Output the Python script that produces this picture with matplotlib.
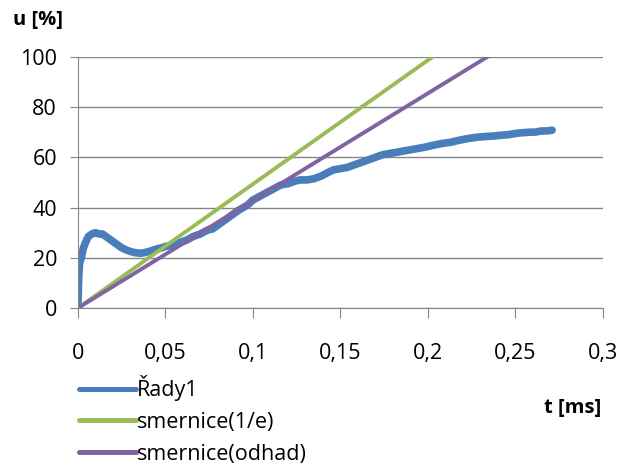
import matplotlib
matplotlib.use("Agg")
import matplotlib.pyplot as plt
from matplotlib.ticker import FuncFormatter

plt.rcParams['font.family'] = ['Open Sans', 'DejaVu Sans']

t_meas = [0.0, 0.0003, 0.0006, 0.001, 0.0015, 0.002, 0.003, 0.004, 0.005, 0.006,
          0.008, 0.010, 0.012, 0.014, 0.016, 0.018, 0.020, 0.022, 0.025, 0.028,
          0.030, 0.033, 0.036, 0.039, 0.042, 0.045, 0.048, 0.050, 0.054, 0.058,
          0.062, 0.066, 0.070, 0.074, 0.077, 0.080, 0.084, 0.088, 0.092, 0.097,
          0.100, 0.104, 0.108, 0.112, 0.116, 0.120, 0.124, 0.127, 0.131, 0.135,
          0.139, 0.143, 0.146, 0.150, 0.154, 0.158, 0.162, 0.166, 0.170, 0.174,
          0.178, 0.182, 0.186, 0.190, 0.194, 0.198, 0.203, 0.208, 0.213, 0.218,
          0.223, 0.228, 0.233, 0.238, 0.242, 0.246, 0.250, 0.254, 0.258, 0.261,
          0.265, 0.268, 0.271]
u_meas = [0.0, 8.0, 14.0, 18.0, 19.0, 20.0, 23.5, 25.5, 27.0, 28.5,
          29.5, 30.0, 29.5, 29.5, 28.5, 27.5, 26.5, 25.5, 24.0, 23.0,
          22.5, 22.0, 21.8, 22.2, 22.8, 23.5, 24.0, 24.5, 25.0, 26.0,
          27.0, 28.5, 29.5, 31.0, 31.5, 33.0, 35.0, 37.0, 39.0, 41.0,
          43.0, 44.5, 46.0, 47.5, 49.0, 49.5, 50.5, 51.0, 51.0, 51.5,
          52.5, 54.0, 55.0, 55.5, 56.0, 57.0, 58.0, 59.0, 60.0, 61.0,
          61.5, 62.0, 62.5, 63.0, 63.5, 64.0, 64.8, 65.5, 66.0, 66.8,
          67.5, 68.0, 68.3, 68.5, 68.8, 69.0, 69.5, 69.8, 70.0, 70.0,
          70.5, 70.5, 70.8]

# tangent lines
t_e = [0.0, 0.2027]
u_e = [0.0, 100.0]
t_odhad = [0.0, 0.234]
u_odhad = [0.0, 100.0]

x_ticks = [0, 0.05, 0.1, 0.15, 0.2, 0.25, 0.3]
y_ticks = [0, 20, 40, 60, 80, 100]

fs = 15.5

fig = plt.figure(figsize=(6.28, 4.66), dpi=100)
ax = fig.add_axes([0.124, 0.339, 0.836, 0.539])

ax.plot(t_meas, u_meas, color='#4a7ebb', lw=5.5, solid_joinstyle='round',
        solid_capstyle='round', label='Řady1')
ax.plot(t_e, u_e, color='#9bbb59', lw=2.8, label='smernice(1/e)')
ax.plot(t_odhad, u_odhad, color='#8064a2', lw=2.8, label='smernice(odhad)')

ax.set_xlim(0, 0.3)
ax.set_ylim(0, 100)
ax.set_xticks(x_ticks)
ax.set_yticks(y_ticks)
ax.xaxis.set_major_formatter(FuncFormatter(lambda v, p: f"{v:g}".replace('.', ',')))
ax.grid(axis='y', color='#868686', lw=1.0)
ax.set_axisbelow(True)
for s in ['top', 'right']:
    ax.spines[s].set_visible(False)
for s in ['left', 'bottom']:
    ax.spines[s].set_color('#868686')
ax.tick_params(axis='y', length=6, color='#868686', labelsize=fs, pad=9)
ax.tick_params(axis='x', length=7, color='#868686', labelsize=fs, pad=18)

fig.text(0.021, 0.957, 'u [%]', fontsize=fs - 1, fontweight='bold', va='center')
fig.text(0.957, 0.124, 't [ms]', fontsize=fs - 1, fontweight='bold', ha='right', va='center')

leg = fig.legend(loc='upper left', bbox_to_anchor=(0.126, 0.195), frameon=False,
                 fontsize=fs, handlelength=2.65, handletextpad=0.05, labelspacing=0.5,
                 borderaxespad=0, borderpad=0)
for line in leg.get_lines():
    line.set_linewidth(3.6)
    line.set_solid_capstyle('round')

fig.savefig('out.png', dpi=100)
